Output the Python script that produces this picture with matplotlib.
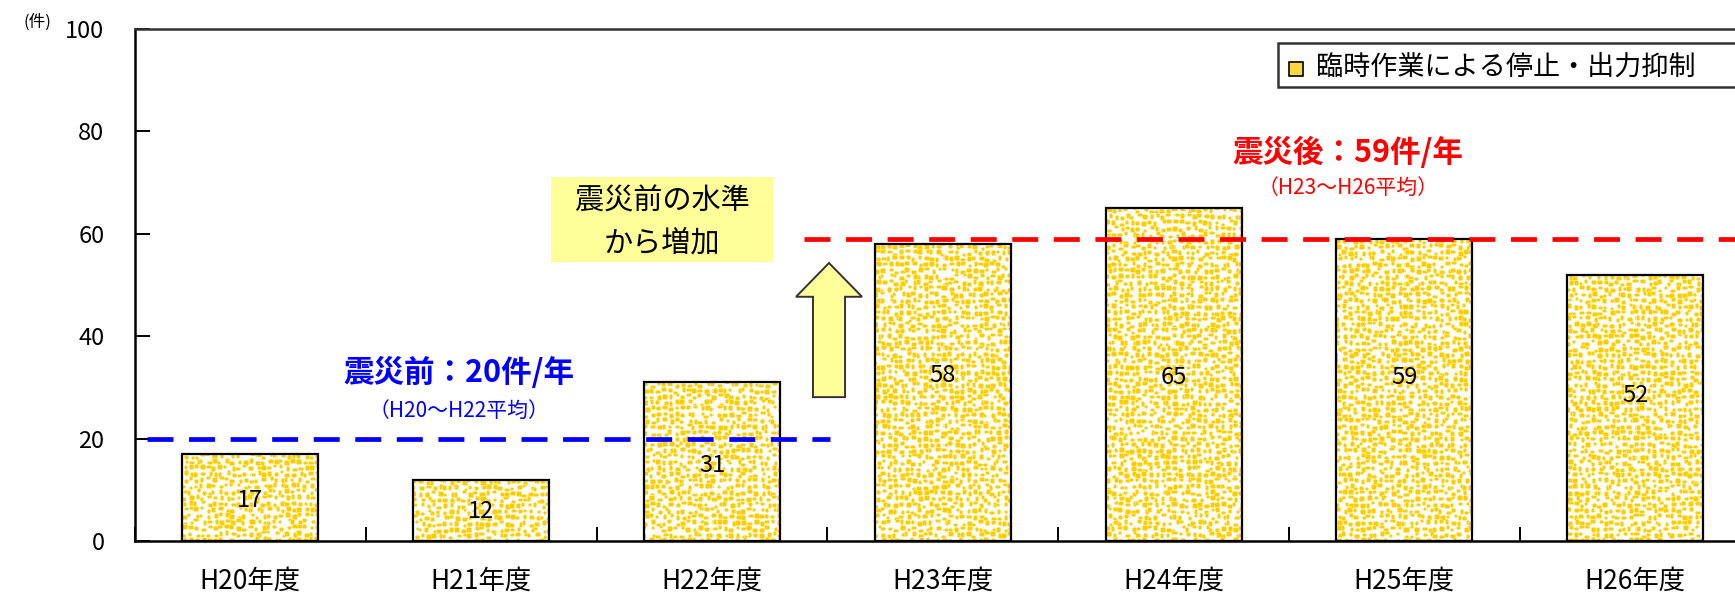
import numpy as np
import matplotlib
matplotlib.use('Agg')
import matplotlib.pyplot as plt
from matplotlib.patches import Rectangle, FancyArrow

plt.rcParams['font.family'] = ['Noto Sans CJK JP', 'DejaVu Sans']

# データ
nendo = ['H20年度', 'H21年度', 'H22年度', 'H23年度', 'H24年度', 'H25年度', 'H26年度']
kensu = [17, 12, 31, 58, 65, 59, 52]
label_y = [8.0, 5.7, 14.8, 32.4, 32.0, 32.0, 28.5]   # 棒内の数値ラベルの高さ
mae_heikin = 20
ato_heikin = 59
hanrei = '臨時作業による停止・出力抑制'

W, H = 1735, 598
GOLD = np.array([1.0, 0.80, 0.0])
PALE = np.array([1.0, 0.90, 0.45])


def fx(px):
    return px / W


def fy(py):
    return 1 - py / H


def moyou(h, w, seed, step=6):
    # 黄色の細かい斑点模様（格子上にずらした小さな塊）
    rng = np.random.default_rng(seed)
    img = np.ones((h + step, w + step, 3))
    for r in range(0, h + step, step):
        for c in range(0, w + step, step):
            bh, bw = rng.integers(2, 5), rng.integers(2, 5)
            dr, dc = rng.integers(0, step - bh + 1), rng.integers(0, step - bw + 1)
            img[r + dr - 1:r + dr + bh + 1, c + dc:c + dc + bw] = PALE
            img[r + dr:r + dr + bh, c + dc - 1:c + dc + bw + 1] = PALE
            img[r + dr:r + dr + bh, c + dc:c + dc + bw] = GOLD
    return img[:h, :w]


fig = plt.figure(figsize=(W / 100, H / 100), dpi=100)
ax = fig.add_axes([fx(135), fy(541), fx(1750.6) - fx(135), fy(29) - fy(541)])

x = np.arange(len(nendo))
bars = ax.bar(x, kensu, width=0.59, facecolor='none', edgecolor='black',
              linewidth=1.6, zorder=3)
px_per_unit = 512 / 100
for i, b in enumerate(bars):
    x0, w_, h_ = b.get_x(), b.get_width(), b.get_height()
    img = moyou(int(h_ * px_per_unit) + 1, 136, i + 1)
    ax.imshow(img, extent=(x0, x0 + w_, 0, h_), aspect='auto',
              interpolation='nearest', zorder=2)
    ax.text(b.get_x() + w_ / 2, label_y[i], str(kensu[i]), ha='center',
            va='center', fontsize=17, zorder=4)

# 平均線
ax.plot([-0.448, 2.511], [mae_heikin] * 2, color='#0000FF', lw=3.4,
        dashes=(5.5, 3.3), zorder=5)
ax.plot([2.399, 6.6], [ato_heikin] * 2, color='#FF0000', lw=3.4,
        dashes=(5.5, 3.3), zorder=5)

ax.text(0.904, 32.8, f'震災前：{mae_heikin}件/年', color='#0000FF', fontsize=22,
        fontweight='bold', ha='center', va='center')
ax.text(0.904, 25.4, '（H20～H22平均）', color='#0000FF', fontsize=15,
        ha='center', va='center')
ax.text(4.756, 75.9, f'震災後：{ato_heikin}件/年', color='#FF0000', fontsize=22,
        fontweight='bold', ha='center', va='center')
ax.text(4.756, 68.9, '（H23～H26平均）', color='#FF0000', fontsize=15,
        ha='center', va='center')

# 増加の矢印
ax.add_patch(FancyArrow(2.507, 28.1, 0, 26.2, width=0.139, head_width=0.286,
                        head_length=6.6, length_includes_head=True,
                        facecolor='#FFFF99', edgecolor='#333333', lw=1.4,
                        zorder=6))

ax.set_xlim(-0.5, 6.5)
ax.set_ylim(0, 100)
ax.set_yticks(range(0, 101, 20))
ax.set_xticks(np.arange(-0.5, 7, 1))
ax.set_xticklabels([])
ax.set_xticks(x, minor=True)
ax.set_xticklabels(nendo, minor=True, fontsize=19)
ax.tick_params(axis='x', which='major', direction='in', length=10, width=1.4)
ax.tick_params(axis='x', which='minor', length=0, pad=19)
ax.tick_params(axis='y', direction='in', length=11, width=1.4, pad=22,
               labelsize=17)
for sp in ax.spines.values():
    sp.set_linewidth(1.8)
ax.spines['right'].set_visible(False)
ax.spines['top'].set_color('#333333')

fig.text(fx(37), fy(22), '(件)', fontsize=12, ha='center', va='center')

# テキストボックス
fig.patches.append(Rectangle((fx(551), fy(262)), fx(773) - fx(551),
                             fy(177) - fy(262), transform=fig.transFigure,
                             facecolor='#FFFF99', edgecolor='none', zorder=5))
fig.text(fx(662), fy(202), '震災前の水準', fontsize=21, ha='center',
         va='center', zorder=6)
fig.text(fx(662), fy(244), 'から増加', fontsize=21, ha='center',
         va='center', zorder=6)

# 凡例
fig.patches.append(Rectangle((fx(1278), fy(87)), fx(1790) - fx(1278),
                             fy(43) - fy(87), transform=fig.transFigure,
                             facecolor='white', edgecolor='#333333', lw=1.8,
                             zorder=5))
fig.patches.append(Rectangle((fx(1289), fy(76)), fx(1303) - fx(1289),
                             fy(62) - fy(76), transform=fig.transFigure,
                             facecolor='#FFD640', edgecolor='black', lw=1.2,
                             zorder=6))
fig.text(fx(1316), fy(67), hanrei, fontsize=19.5, ha='left', va='center',
         zorder=7)

fig.savefig('out.png', dpi=100)
